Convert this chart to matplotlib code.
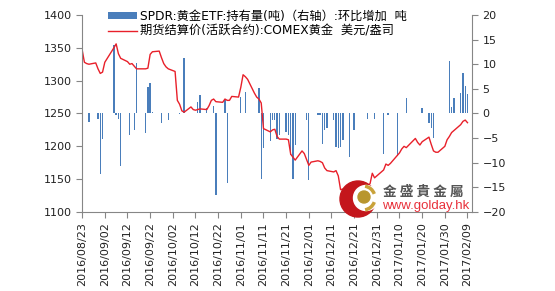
import pandas as pd
import matplotlib
matplotlib.use('Agg')
import matplotlib.pyplot as plt
import matplotlib.dates as mdates
from matplotlib.patches import Circle, Arc

plt.rcParams['font.family'] = ['DejaVu Sans', 'Noto Sans CJK SC']

# 期货结算价(活跃合约):COMEX黄金, 美元/盎司
price_dates = [
    '2016-08-23', '2016-08-24', '2016-08-25', '2016-08-26', '2016-08-29', '2016-08-30', '2016-08-31',
    '2016-09-01', '2016-09-02', '2016-09-06', '2016-09-07', '2016-09-08', '2016-09-09', '2016-09-12',
    '2016-09-13', '2016-09-14', '2016-09-15', '2016-09-16', '2016-09-19', '2016-09-20', '2016-09-21',
    '2016-09-22', '2016-09-23', '2016-09-26', '2016-09-27', '2016-09-28', '2016-09-29', '2016-09-30',
    '2016-10-03', '2016-10-04', '2016-10-05', '2016-10-06', '2016-10-07', '2016-10-10', '2016-10-11',
    '2016-10-12', '2016-10-13', '2016-10-14', '2016-10-17', '2016-10-18', '2016-10-19', '2016-10-20',
    '2016-10-21', '2016-10-24', '2016-10-25', '2016-10-26', '2016-10-27', '2016-10-28', '2016-10-31',
    '2016-11-01', '2016-11-02', '2016-11-03', '2016-11-04', '2016-11-07', '2016-11-08', '2016-11-09',
    '2016-11-10', '2016-11-11', '2016-11-14', '2016-11-15', '2016-11-16', '2016-11-17', '2016-11-18',
    '2016-11-21', '2016-11-22', '2016-11-23', '2016-11-25', '2016-11-28', '2016-11-29', '2016-11-30',
    '2016-12-01', '2016-12-02', '2016-12-05', '2016-12-06', '2016-12-07', '2016-12-08', '2016-12-09',
    '2016-12-12', '2016-12-13', '2016-12-14', '2016-12-15', '2016-12-16', '2016-12-19', '2016-12-20',
    '2016-12-21', '2016-12-22', '2016-12-23', '2016-12-27', '2016-12-28', '2016-12-29', '2016-12-30',
    '2017-01-03', '2017-01-04', '2017-01-05', '2017-01-06', '2017-01-09', '2017-01-10', '2017-01-11',
    '2017-01-12', '2017-01-13', '2017-01-17', '2017-01-18', '2017-01-19', '2017-01-20', '2017-01-23',
    '2017-01-24', '2017-01-25', '2017-01-26', '2017-01-27', '2017-01-30', '2017-01-31', '2017-02-01',
    '2017-02-02', '2017-02-03', '2017-02-06', '2017-02-07', '2017-02-08', '2017-02-09',
]
price_values = [
    1347, 1328, 1326, 1325, 1327, 1318, 1311,
    1313, 1328, 1350, 1356, 1341, 1334, 1329,
    1325, 1326, 1322, 1318, 1318, 1318, 1319,
    1340, 1344, 1345, 1335, 1326, 1321, 1318,
    1314, 1270, 1264, 1254, 1252, 1260, 1256,
    1255, 1256, 1257, 1256, 1262, 1270, 1272,
    1268, 1267, 1272, 1270, 1270, 1276, 1275,
    1290, 1309, 1306, 1302, 1281, 1275, 1272,
    1266, 1227, 1222, 1225, 1226, 1215, 1211,
    1211, 1210, 1188, 1179, 1193, 1189, 1180,
    1171, 1176, 1178, 1177, 1175, 1167, 1163,
    1161, 1163, 1155, 1134, 1135, 1135, 1131,
    1131, 1133, 1136, 1141, 1143, 1159, 1152,
    1164, 1173, 1171, 1174, 1186, 1190, 1196,
    1200, 1198, 1212, 1206, 1202, 1207, 1214,
    1203, 1193, 1191, 1191, 1200, 1210, 1215,
    1221, 1224, 1233, 1238, 1240, 1236,
]

# SPDR:黄金ETF:持有量(吨) 环比增加, 吨 (右轴)
etf_dates = [
    '2016-08-26', '2016-08-30', '2016-08-31', '2016-09-01', '2016-09-06', '2016-09-07', '2016-09-08',
    '2016-09-09', '2016-09-13', '2016-09-15', '2016-09-16', '2016-09-20', '2016-09-21', '2016-09-22',
    '2016-09-23', '2016-09-27', '2016-09-30', '2016-10-05', '2016-10-07', '2016-10-13', '2016-10-14',
    '2016-10-17', '2016-10-20', '2016-10-21', '2016-10-25', '2016-10-26', '2016-11-01', '2016-11-03',
    '2016-11-09', '2016-11-10', '2016-11-11', '2016-11-14', '2016-11-15', '2016-11-16', '2016-11-17',
    '2016-11-18', '2016-11-21', '2016-11-22', '2016-11-23', '2016-11-24', '2016-11-25', '2016-11-30',
    '2016-12-01', '2016-12-05', '2016-12-06', '2016-12-07', '2016-12-08', '2016-12-09', '2016-12-12',
    '2016-12-13', '2016-12-14', '2016-12-15', '2016-12-16', '2016-12-19', '2016-12-21', '2016-12-27',
    '2016-12-30', '2017-01-03', '2017-01-05', '2017-01-09', '2017-01-13', '2017-01-20', '2017-01-23',
    '2017-01-24', '2017-01-25', '2017-02-01', '2017-02-02', '2017-02-03', '2017-02-06', '2017-02-07',
    '2017-02-08', '2017-02-09',
]
etf_values = [
    -1.7, -1.1, -12.2, -5.2, 13.9, -0.3, -1.2,
    -10.7, -4.4, -3.3, 10.2, -3.9, 5.4, 6.2,
    0.3, -2.0, -1.4, -0.2, 11.2, 2.4, 3.7,
    1.2, 1.5, -16.6, 2.7, -14.2, 3.4, 4.4,
    5.1, -13.4, -7.1, -5.6, -1.4, -1.4, -5.2,
    -4.4, -3.7, -4.4, -8.5, -13.4, -6.4, -1.4,
    -13.5, -0.3, -0.3, -6.1, -3.4, -3.0, -1.4,
    -6.8, -7.1, -6.8, -5.3, -8.9, -3.4, -1.2,
    -1.2, -8.2, -0.3, -8.6, 3.1, 1.1, -2.0,
    -3.0, -5.0, 10.7, 1.4, 3.2, 4.2, 8.2,
    5.6, 4.0,
]

bar_label = 'SPDR:黄金ETF:持有量(吨)（右轴）:环比增加  吨'
line_label = '期货结算价(活跃合约):COMEX黄金  美元/盎司'
tick_dates = pd.date_range('2016-08-23', '2017-02-09', freq='10D')

axis_gray = '#868686'
bar_color = '#4a7ebb'
line_color = '#e8202a'

fig = plt.figure(figsize=(5.55, 2.91), dpi=100)
ax = fig.add_axes([0.148, 0.2715, 0.7025, 0.677])
ax2 = ax.twinx()
ax.set_zorder(ax2.get_zorder() + 1)
ax.patch.set_visible(False)

bars = ax2.bar(pd.to_datetime(etf_dates), etf_values, width=0.6, color=bar_color, linewidth=0)
line, = ax.plot(pd.to_datetime(price_dates), price_values, color=line_color, lw=1.0)

ax.set_xlim(pd.Timestamp('2016-08-23'), pd.Timestamp('2017-02-11'))
ax.set_ylim(1100, 1400)
ax.set_yticks(range(1100, 1401, 50))
ax2.set_ylim(-20, 20)
ax2.set_yticks(range(-20, 21, 5))

ax.set_xticks(tick_dates)
ax.xaxis.set_major_formatter(mdates.DateFormatter('%Y/%m/%d'))
for lbl in ax.get_xticklabels():
    lbl.set_rotation(90)

for a in (ax, ax2):
    a.spines['top'].set_visible(False)
    for s in ('left', 'right', 'bottom'):
        a.spines[s].set_color(axis_gray)
        a.spines[s].set_linewidth(0.8)
    a.tick_params(colors=axis_gray, labelcolor='#222222', labelsize=8, length=4, width=0.8)
ax.spines['right'].set_visible(False)
ax2.spines['left'].set_visible(False)
ax2.spines['bottom'].set_visible(False)

fig.legend([bars, line], [bar_label, line_label], loc='upper left',
           bbox_to_anchor=(0.177, 1.0), frameon=False, fontsize=8.8,
           handlelength=2.4, handleheight=0.6, handletextpad=0.2,
           labelspacing=0.15, borderpad=0.3)

# golday watermark
ov = fig.add_axes([0, 0, 1, 1], zorder=10)
ov.set_xlim(0, 555)
ov.set_ylim(291, 0)
ov.axis('off')
ov.add_patch(Circle((358, 199), 18, color='#c4161c'))
ov.add_patch(Circle((366, 198), 12.5, color='white'))
ov.add_patch(Circle((364, 197), 6, color='#b8962e'))
ov.add_patch(Arc((363, 198), 24, 24, theta1=20, theta2=80, color='#c9a23a', lw=2.5))
ov.add_patch(Arc((363, 198), 24, 24, theta1=-80, theta2=-20, color='#c9a23a', lw=2.5))
ov.text(383, 192, '金 盛 貴 金 屬', fontsize=9.8, color='#555555', va='center', ha='left',
        family=['Noto Sans CJK TC', 'DejaVu Sans'], fontweight='bold')
ov.text(382, 206, 'www.golday.hk', fontsize=9.5, color='#e8303a', va='center', ha='left',
        family='Liberation Sans')

fig.savefig('out.png', dpi=100)
